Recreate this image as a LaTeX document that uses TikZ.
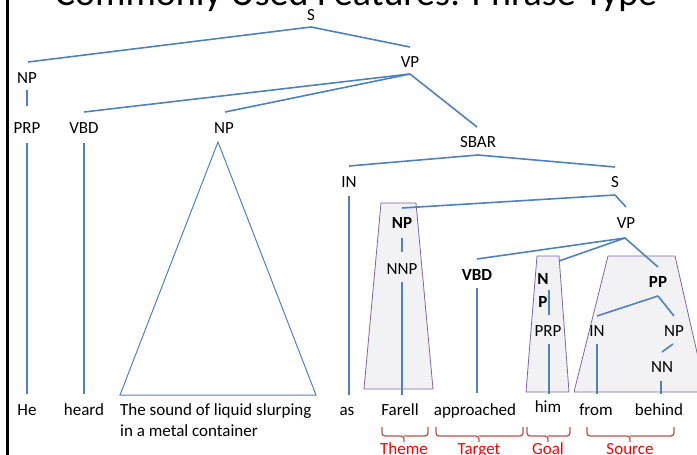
\documentclass[tikz,border=0pt]{standalone}
\usepackage{fontspec}
\setmainfont{Carlito}
\usetikzlibrary{calc}
\definecolor{treeblue}{HTML}{4F81BD}
\definecolor{boxline}{HTML}{8064A2}
\definecolor{boxfill}{HTML}{F2F2F5}
\definecolor{bracecol}{HTML}{C0504D}
\definecolor{rolered}{HTML}{FF0000}
\begin{document}
\begin{tikzpicture}[x=1pt,y=-1pt,
  lbl/.style={font=\fontsize{17}{20}\selectfont, inner sep=0pt, text height=11pt, text depth=0pt},
  blbl/.style={lbl, font=\fontsize{17}{20}\selectfont\bfseries},
  edge/.style={draw=treeblue, line width=1.6pt},
  thinedge/.style={draw=treeblue, line width=1pt, line join=miter},
  phrasebox/.style={fill=boxfill, draw=boxline, line width=0.8pt},
  rolebrace/.style={draw=bracecol, line width=1.3pt, rounded corners=3pt},
  rolelbl/.style={font=\fontsize{17}{20}\selectfont, text=rolered, inner sep=0pt, text height=11pt, text depth=0pt}]
\useasboundingbox (0,0) rectangle (697,455);
\clip (0,0) rectangle (697,455);

% slide title and frame edge
\node[anchor=base, font=\fontsize{38}{40}\selectfont, inner sep=0pt] (title) at (356,5.5) {Commonly Used Features: Phrase Type};
\draw[line width=3pt] (7.5,-2) -- (7.5,457);

% shaded constituents
\draw[phrasebox] (381,203) -- (416,203) -- (433,389) -- (364,389) -- cycle;
\draw[phrasebox] (537,256) -- (559,256) -- (569,392) -- (526,392) -- cycle;
\draw[phrasebox] (608,256) -- (675,256) -- (706,392) -- (574,392) -- cycle;

% phrase labels
\node[lbl] (S0) at (311,15) {S};
\node[lbl] (NPa) at (27,78) {NP};
\node[lbl] (VPa) at (410,62) {VP};
\node[lbl] (PRPa) at (27,128) {PRP};
\node[lbl] (VBDa) at (84,128) {VBD};
\node[lbl] (NPb) at (224,128) {NP};
\node[lbl] (SBAR) at (478,142) {SBAR};
\node[lbl] (INa) at (349,182) {IN};
\node[lbl] (S1) at (615,182) {S};
\node[blbl] (NPc) at (402,223) {NP};
\node[lbl] (VPb) at (626,223) {VP};
\node[lbl] (NNP) at (402,269) {NNP};
\node[blbl] (VBDb) at (477,275) {VBD};
\node[blbl] (NPdN) at (543,279) {N};
\node[blbl] (NPdP) at (543,302) {P};
\node[blbl] (PP) at (658,282) {PP};
\node[lbl] (PRPb) at (548,331) {PRP};
\node[lbl] (INb) at (597,331) {IN};
\node[lbl] (NPe) at (674,331) {NP};
\node[lbl] (NN) at (662,367) {NN};

% words
\node[lbl] (He) at (27,410) {He};
\node[lbl] (heard) at (84,410) {heard};
\node[font=\fontsize{17}{20.5}\selectfont, inner sep=0pt, anchor=base west, align=left] (phrase) at (120,436) {The sound of liquid slurping\\in a metal container};
\node[lbl] (as) at (347,410) {as};
\node[lbl] (Farell) at (400,410) {Farell};
\node[lbl] (approached) at (475,410) {approached};
\node[lbl] (him) at (548,407) {him};
\node[lbl] (from) at (596,410) {from};
\node[lbl] (behind) at (659,410) {behind};

% branches
\draw[edge] ($(S0)+(0,12)$) -- ($(NPa)+(1,-16)$);
\draw[edge] ($(S0)+(0,12)$) -- ($(VPa)+(0,-15)$);
\draw[edge] ($(NPa)+(0,12)$) -- ($(PRPa)+(0,-22)$);
\draw[edge] ($(VPa)+(0,12)$) -- ($(VBDa)+(0,-16)$);
\draw[edge] ($(VPa)+(0,12)$) -- ($(NPb)+(1,-16)$);
\draw[edge] ($(VPa)+(0,12)$) -- ($(SBAR)+(-1,-15)$);
\draw[edge] ($(PRPa)+(0,15)$) -- ($(He)+(0,-16)$);
\draw[edge] ($(VBDa)+(0,15)$) -- ($(heard)+(0,-16)$);
\draw[thinedge] ($(phrase.base west)+(0,-41)$) -- ($(NPb)+(-6,14)$) -- ($(phrase.base west)+(196,-41)$) -- cycle;
\draw[edge] ($(SBAR)+(0,13)$) -- ($(INa)+(0,-16)$);
\draw[edge] ($(SBAR)+(0,13)$) -- ($(S1)+(0,-15)$);
\draw[edge] ($(INa)+(0,14)$) -- ($(as)+(2,-15)$);
\draw[edge] ($(S1)+(0,13)$) -- ($(NPc)+(0,-15)$);
\draw[edge] ($(S1)+(0,13)$) -- ($(VPb)+(0,-16)$);
\draw[edge] ($(NPc)+(0,15)$) -- ($(NNP)+(0,-17)$);
\draw[edge] ($(NNP)+(0,13)$) -- ($(Farell)+(2,-15)$);
\draw[edge] ($(VPb)+(-1,15)$) -- ($(VBDb)+(0,-16)$);
\draw[edge] ($(VPb)+(-1,15)$) -- ($(NPdN)+(16,-18)$);
\draw[edge] ($(VPb)+(-1,15)$) -- ($(PP)+(0,-15)$);
\draw[edge] ($(VBDb)+(0,13)$) -- ($(approached)+(2,-17)$);
\draw[edge] ($(NPdN)+(6,11)$) -- ($(PRPb)+(1,-16)$);
\draw[edge] ($(PRPb)+(1,13)$) -- ($(him)+(1,-13)$);
\draw[edge] ($(PP)+(0,14)$) -- ($(INb)+(0,-15)$);
\draw[edge] ($(PP)+(0,14)$) -- ($(NPe)+(0,-15)$);
\draw[edge] ($(NPe)+(-1,13)$) -- ($(NN)+(0,-15)$);
\draw[edge] ($(NN)+(-1,14)$) -- ($(behind)+(2,-16)$);
\draw[edge] ($(INb)+(0,13)$) -- ($(from)+(1,-16)$);

% semantic roles
\node[rolelbl] (Theme) at (404,449) {Theme};
\node[rolelbl] (Target) at (479,449) {Target};
\node[rolelbl] (Goal) at (548,449) {Goal};
\node[rolelbl] (Source) at (630,449) {Source};
\draw[rolebrace] ($(Theme)+(-22,-22)$) -- ($(Theme)+(-22,-13)$) -- ($(Theme)+(0,-13)$) -- ($(Theme)+(0,-7)$);
\draw[rolebrace] ($(Theme)+(0,-13)$) -- ($(Theme)+(24,-13)$) -- ($(Theme)+(24,-22)$);
\draw[rolebrace] ($(Target)+(-43,-22)$) -- ($(Target)+(-43,-13)$) -- ($(Target)+(0,-13)$) -- ($(Target)+(0,-7)$);
\draw[rolebrace] ($(Target)+(0,-13)$) -- ($(Target)+(44,-13)$) -- ($(Target)+(44,-22)$);
\draw[rolebrace] ($(Goal)+(-21,-22)$) -- ($(Goal)+(-21,-13)$) -- ($(Goal)+(0,-13)$) -- ($(Goal)+(0,-7)$);
\draw[rolebrace] ($(Goal)+(0,-13)$) -- ($(Goal)+(22,-13)$) -- ($(Goal)+(22,-22)$);
\draw[rolebrace] ($(Source)+(-43,-22)$) -- ($(Source)+(-43,-13)$) -- ($(Source)+(0,-13)$) -- ($(Source)+(0,-7)$);
\draw[rolebrace] ($(Source)+(0,-13)$) -- ($(Source)+(44,-13)$) -- ($(Source)+(44,-22)$);
\end{tikzpicture}
\end{document}
